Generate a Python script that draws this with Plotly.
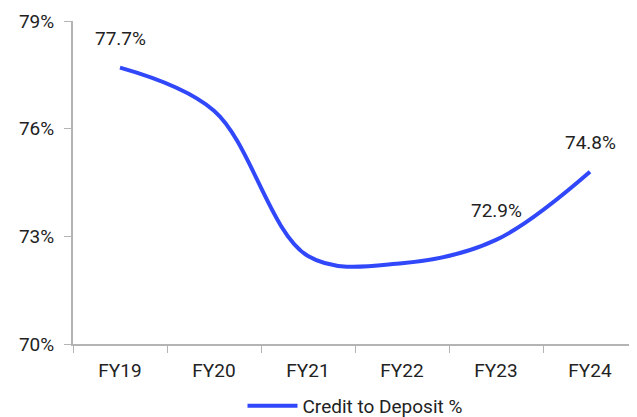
import plotly.graph_objects as go

categories = ["FY19", "FY20", "FY21", "FY22", "FY23", "FY24"]
values = [77.7, 76.5, 72.45, 72.25, 72.9, 74.8]
labels = ["77.7%", "", "", "", "72.9%", "74.8%"]
series_name = "Credit to Deposit %"
y_ticks = [70, 73, 76, 79]

FONT = "Roboto"
FS = 19
COLOR = "#3048FA"
AXIS = "#B4B4B4"
TXT = "#222222"

fig = go.Figure()
fig.add_trace(go.Scatter(
    x=categories, y=values, mode="lines", name=series_name,
    line=dict(color=COLOR, width=4, shape="spline", smoothing=1.0),
))
for c, v, t in zip(categories, values, labels):
    if t:
        fig.add_annotation(x=c, y=v, text=t, showarrow=False, yshift=29,
                           yanchor="middle", font=dict(family=FONT, size=FS, color=TXT))

# page body has an 8px margin, so the figure is sized/offset to compensate
fig.update_layout(
    width=629, height=409,
    margin=dict(l=65, r=0, t=13, b=73, autoexpand=False),
    paper_bgcolor="white", plot_bgcolor="white",
    font=dict(family=FONT, size=FS, color=TXT),
    showlegend=True,
    legend=dict(orientation="h", x=0.5, xanchor="center", y=-0.192, yanchor="middle",
                font=dict(family=FONT, size=FS, color=TXT), itemwidth=50),
)
fig.update_xaxes(
    type="category", tickson="boundaries", ticks="outside", ticklen=7,
    tickcolor=AXIS, showline=True, linecolor=AXIS, linewidth=2, automargin=False,
    showgrid=False, tickfont=dict(size=FS), range=[-0.5, 5.5], ticklabelstandoff=8,
)
fig.update_yaxes(
    range=[70, 79], tickvals=y_ticks, ticktext=[f"{v}%" for v in y_ticks],
    ticks="outside", ticklen=7, tickcolor=AXIS, showline=True, linecolor=AXIS,
    linewidth=2, showgrid=False, zeroline=False, tickfont=dict(size=FS),
    automargin=False, ticklabelstandoff=6,
)

fig.write_html("out.html")
